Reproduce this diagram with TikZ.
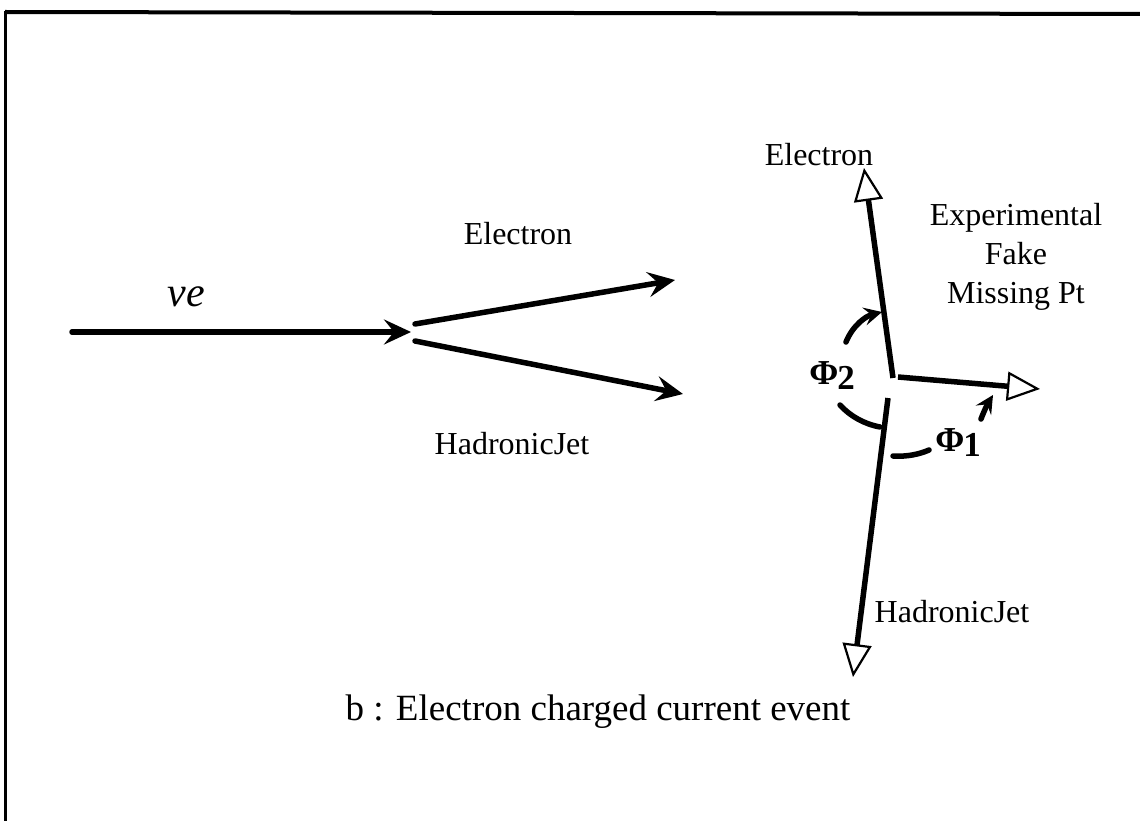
\documentclass[tikz,border=0pt]{standalone}
\usepackage{fontspec}
\setmainfont{Liberation Serif}
\usetikzlibrary{arrows.meta}
\tikzset{
  lbl/.style={font=\fontsize{32}{38}\selectfont, inner sep=0pt},
  phitext/.style={font=\fontsize{35}{40}\selectfont\bfseries, inner sep=0pt},
  captext/.style={font=\fontsize{37}{44}\selectfont, inner sep=0pt},
  thick line/.style={line width=5.5pt, line cap=round},
  barb/.style={-{Stealth[length=27pt,width=25pt,inset=10pt]}},
  smallbarb/.style={-{Stealth[length=18pt,width=18pt,inset=7pt]}},
  openhead/.style={-{Triangle[open,length=33pt,width=29pt,line width=2.2pt]}},
}
\begin{document}
\begin{tikzpicture}[x=1pt,y=-1pt]
\useasboundingbox (0,0) rectangle (1140,821);
% frame
\draw[line width=4pt] (5,12) -- (1140,14);
\draw[line width=3pt] (5,11) -- (5,821);

% left diagram
\coordinate (nuS) at (72,332);
\coordinate (nuE) at (411,332);
\coordinate (eS) at (415,324);
\coordinate (eE) at (675,280);
\coordinate (hS) at (415,341);
\coordinate (hE) at (683,394);
\draw[thick line,barb] (nuS) -- (nuE);
\draw[thick line,barb] (eS) -- (eE);
\draw[thick line,barb] (hS) -- (hE);
\node[font=\fontsize{42}{46}\selectfont, inner sep=0pt] (nu) at (186,297) {\textit{νe}};
\node[lbl] (el) at (518,234) {Electron};
\node[lbl] (hj) at (512,444) {HadronicJet};

% right diagram
\coordinate (V) at (893,378);
\coordinate (Ve) at (864,168);
\coordinate (Vm) at (898,377);
\coordinate (Me) at (1040,389);
\coordinate (Hs) at (888,398);
\coordinate (He) at (853,677);
\draw[line width=5.5pt,openhead] (V) -- (Ve);
\draw[line width=5.5pt,openhead] (Vm) -- (Me);
\draw[line width=5.5pt,openhead] (Hs) -- (He);
\node[lbl] (el2) at (819,155) {Electron};
\node[lbl,align=center,font=\fontsize{32}{39}\selectfont] (mpt) at (1016,257) {Experimental\\Fake\\Missing Pt};
\node[lbl] (hj2) at (952,612) {HadronicJet};

% angles
\node[phitext] (p2) at (832,376) {Φ\kern-1pt\raisebox{-5pt}{2}};
\node[phitext] (p1) at (958,443) {Φ\kern-1pt\raisebox{-5pt}{1}};
\coordinate (a1) at (846,342);
\coordinate (a2) at (882,312);
\coordinate (b1) at (840,405);
\coordinate (b2) at (880,427);
\coordinate (c1) at (893,456);
\coordinate (c2) at (929,450);
\coordinate (d1) at (981,419);
\coordinate (d2) at (993,395);
\draw[thick line,smallbarb] (a1) .. controls (853,325) and (866,316) .. (a2);
\draw[thick line] (b1) .. controls (850,416) and (864,424) .. (b2);
\draw[thick line] (c1) .. controls (907,457) and (920,454) .. (c2);
\draw[thick line,smallbarb] (d1) .. controls (984,411) and (988,403) .. (d2);

\node[captext] (title) at (598,712) {b : Electron charged current event};
\end{tikzpicture}
\end{document}
